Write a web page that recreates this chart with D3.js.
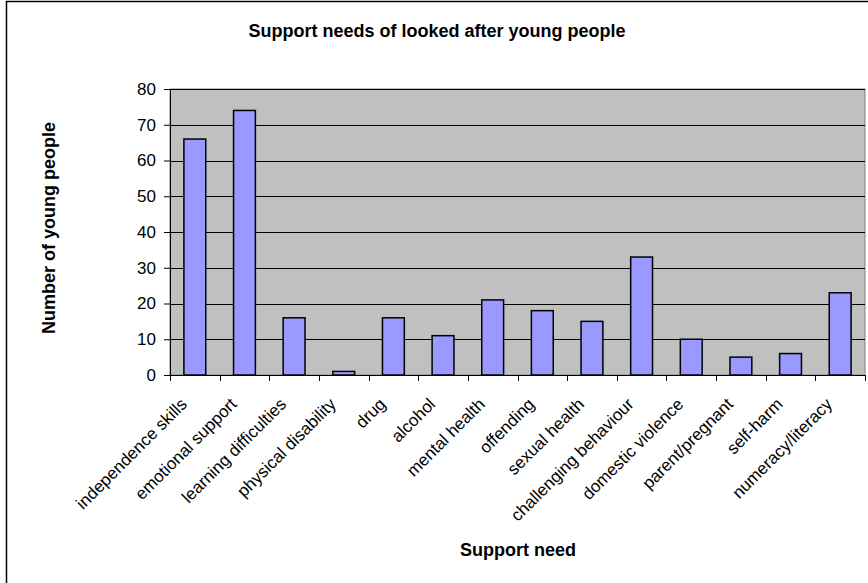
<!DOCTYPE html>
<html>
  <head>
    <script src="https://d3js.org/d3.v7.min.js"></script>
  </head>
  <body>
    <svg id="viz" width="868" height="583"></svg>
  </body>
  <script>
    const categories = [
      "independence skills", "emotional support", "learning difficulties",
      "physical disability", "drug", "alcohol", "mental health", "offending",
      "sexual health", "challenging behaviour", "domestic violence",
      "parent/pregnant", "self-harm", "numeracy/literacy"
    ];
    const counts = [66, 74, 16, 1, 16, 11, 21, 18, 15, 33, 10, 5, 6, 23];
    const yTicks = [0, 10, 20, 30, 40, 50, 60, 70, 80];

    const chartTitle = "Support needs of looked after young people";
    const xTitle = "Support need";
    const yTitle = "Number of young people";

    function draw() {
      const svg = d3.select("svg#viz");
      const font = "Arial, 'Liberation Sans', sans-serif";

      // chart frame (right/bottom edges fall outside the window)
      svg.append("rect")
        .attr("x", 6.5).attr("y", 1.5)
        .attr("width", 900).attr("height", 620)
        .attr("fill", "#fff")
        .attr("stroke", "#000")
        .attr("stroke-width", 1.5);

      const left = 170, right = 865, top = 89, bottom = 375;

      const x = d3.scaleBand()
        .domain(categories)
        .range([left, right])
        .paddingInner(0.56)
        .paddingOuter(0.28);

      const y = d3.scaleLinear()
        .domain([0, 80])
        .range([bottom, top]);

      svg.append("rect")
        .attr("x", left).attr("y", top)
        .attr("width", right - left).attr("height", bottom - top)
        .attr("fill", "#c0c0c0")
        .attr("stroke", "#808080")
        .attr("stroke-width", 1);

      // gridlines
      svg.append("g")
        .selectAll("line")
        .data(yTicks.filter((d) => d > 0))
        .join("line")
        .attr("x1", left).attr("x2", right)
        .attr("y1", (d) => Math.round(y(d)) + 0.5)
        .attr("y2", (d) => Math.round(y(d)) + 0.5)
        .attr("stroke", "#000")
        .attr("stroke-width", 1);

      svg.append("g")
        .selectAll("rect")
        .data(counts)
        .join("rect")
        .attr("x", (d, i) => x(categories[i]))
        .attr("y", (d) => y(d))
        .attr("width", x.bandwidth())
        .attr("height", (d) => y(0) - y(d))
        .attr("fill", "#9999ff")
        .attr("stroke", "#000")
        .attr("stroke-width", 1.5);

      // y axis
      const yAxis = svg.append("g")
        .attr("transform", `translate(${left},0)`)
        .call(d3.axisLeft(y).tickValues(yTicks).tickSize(6).tickPadding(8));
      yAxis.select(".domain").attr("stroke", "#000");
      yAxis.selectAll("text")
        .attr("font-family", font)
        .attr("font-size", 17)
        .attr("fill", "#000");

      // x axis: ticks at category boundaries
      const boundaries = d3.range(categories.length + 1).map((i) => left + i * (right - left) / categories.length);
      const xg = svg.append("g");
      xg.append("line")
        .attr("x1", left).attr("x2", right)
        .attr("y1", bottom + 0.5).attr("y2", bottom + 0.5)
        .attr("stroke", "#000");
      xg.selectAll("line.tick")
        .data(boundaries)
        .join("line")
        .attr("class", "tick")
        .attr("x1", (d) => Math.round(d) + 0.5).attr("x2", (d) => Math.round(d) + 0.5)
        .attr("y1", bottom).attr("y2", bottom + 6)
        .attr("stroke", "#000");

      xg.selectAll("text")
        .data(categories)
        .join("text")
        .attr("transform", (d) => `translate(${x(d) + x.bandwidth() / 2 - 11},${bottom + 26}) rotate(-45)`)
        .attr("text-anchor", "end")
        .attr("dy", "0.35em")
        .attr("font-family", font)
        .attr("font-size", 17)
        .attr("fill", "#000")
        .text((d) => d);

      svg.append("text")
        .attr("x", 437).attr("y", 37)
        .attr("text-anchor", "middle")
        .attr("font-family", font)
        .attr("font-size", 18)
        .attr("font-weight", "bold")
        .text(chartTitle);

      svg.append("text")
        .attr("x", 518).attr("y", 556)
        .attr("text-anchor", "middle")
        .attr("font-family", font)
        .attr("font-size", 18)
        .attr("font-weight", "bold")
        .text(xTitle);

      svg.append("text")
        .attr("transform", `translate(55,228) rotate(-90)`)
        .attr("text-anchor", "middle")
        .attr("font-family", font)
        .attr("font-size", 18)
        .attr("font-weight", "bold")
        .text(yTitle);
    }

    draw();
  </script>
  <style>
    body {
      margin: 0px;
    }
  </style>
</html>
